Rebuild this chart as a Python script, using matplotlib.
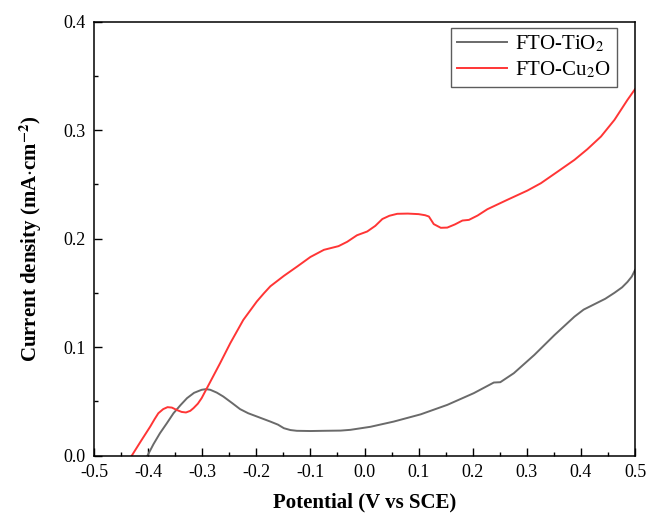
import matplotlib.pyplot as plt
from matplotlib.ticker import MultipleLocator, FormatStrFormatter

# LSV curves, potential in V vs SCE, current density in mA/cm2
tio2_v = [-0.401, -0.390, -0.378, -0.365, -0.353, -0.340, -0.328, -0.315,
          -0.301, -0.293, -0.285, -0.273, -0.261, -0.245, -0.230, -0.215,
          -0.199, -0.174, -0.160, -0.149, -0.137, -0.125, -0.100, -0.075,
          -0.044, -0.026, 0.011, 0.054, 0.104, 0.153, 0.202, 0.239, 0.251,
          0.276, 0.314, 0.351, 0.388, 0.405, 0.425, 0.445, 0.462, 0.476,
          0.486, 0.494, 0.500]
tio2_j = [0.000, 0.0105, 0.0206, 0.030, 0.039, 0.0465, 0.0529, 0.0578,
          0.0606, 0.0612, 0.0606, 0.0580, 0.0544, 0.0485, 0.0428, 0.0390,
          0.036, 0.0313, 0.0285, 0.0252, 0.0235, 0.0228, 0.0226, 0.0228,
          0.0230, 0.0237, 0.0265, 0.0313, 0.038, 0.0467, 0.0575, 0.0673,
          0.0676, 0.0759, 0.0928, 0.111, 0.128, 0.1345, 0.1395, 0.1445,
          0.150, 0.155, 0.160, 0.165, 0.171]

cu2o_v = [-0.430, -0.413, -0.396, -0.388, -0.381, -0.372, -0.364, -0.356,
          -0.347, -0.338, -0.330, -0.322, -0.316, -0.308, -0.301, -0.285,
          -0.267, -0.248, -0.224, -0.199, -0.186, -0.174, -0.149, -0.125,
          -0.100, -0.075, -0.048, -0.032, -0.014, 0.005, 0.020, 0.033,
          0.046, 0.0605, 0.080, 0.100, 0.112, 0.119, 0.128, 0.141, 0.153,
          0.167, 0.181, 0.193, 0.209, 0.227, 0.264, 0.301, 0.326, 0.357,
          0.388, 0.412, 0.437, 0.462, 0.486, 0.500]
cu2o_j = [0.000, 0.0135, 0.0267, 0.0335, 0.039, 0.0428, 0.0446, 0.0442,
          0.042, 0.0402, 0.0397, 0.0412, 0.0437, 0.0478, 0.0529, 0.068,
          0.085, 0.1036, 0.125, 0.142, 0.1495, 0.156, 0.1656, 0.174,
          0.183, 0.1896, 0.193, 0.197, 0.203, 0.2065, 0.2117, 0.218,
          0.2210, 0.2228, 0.2230, 0.2225, 0.2215, 0.2203, 0.2133, 0.2099,
          0.2101, 0.2130, 0.2166, 0.2172, 0.2212, 0.227, 0.2357, 0.2442,
          0.251, 0.2617, 0.2725, 0.2824, 0.294, 0.3094, 0.3278, 0.3377]

plt.rcParams['font.family'] = ['Liberation Serif', 'DejaVu Serif']
plt.rcParams['mathtext.fontset'] = 'stix'

fig = plt.figure(figsize=(6.48, 5.13), dpi=100)
ax = fig.add_axes([0.145, 0.112, 0.835, 0.846])

ax.plot(tio2_v, tio2_j, color='#6a6a6a', lw=1.4, label='FTO-TiO$_2$')
ax.plot(cu2o_v, cu2o_j, color='#ff3535', lw=1.4, label='FTO-Cu$_2$O')

ax.set_xlim(-0.5, 0.5)
ax.set_ylim(0, 0.4)
ax.xaxis.set_major_locator(MultipleLocator(0.1))
ax.xaxis.set_minor_locator(MultipleLocator(0.05))
ax.yaxis.set_major_locator(MultipleLocator(0.1))
ax.yaxis.set_minor_locator(MultipleLocator(0.05))
ax.xaxis.set_major_formatter(FormatStrFormatter('%.1f'))
ax.yaxis.set_major_formatter(FormatStrFormatter('%.1f'))

ax.tick_params(which='both', direction='in', top=False, right=False,
               width=1.0, labelsize=13, pad=6)
ax.tick_params(which='major', length=6)
ax.tick_params(which='minor', length=3)
for s in ax.spines.values():
    s.set_linewidth(1.1)

ax.set_xlabel('Potential (V vs SCE)', fontsize=15, fontweight='bold',
              labelpad=8)
ax.set_ylabel('Current density (mA$\\cdot$cm$^{\\mathbf{-2}}$)', fontsize=15,
              fontweight='bold', labelpad=14)

leg = ax.legend(loc='upper right', bbox_to_anchor=(0.967, 0.986),
                fontsize=15, frameon=True, fancybox=False, handlelength=2.4,
                borderpad=0.3, labelspacing=0.25, handletextpad=0.4,
                borderaxespad=0)
leg.get_frame().set_edgecolor('#333333')
leg.get_frame().set_linewidth(1.0)

fig.savefig('out.png', dpi=100)
